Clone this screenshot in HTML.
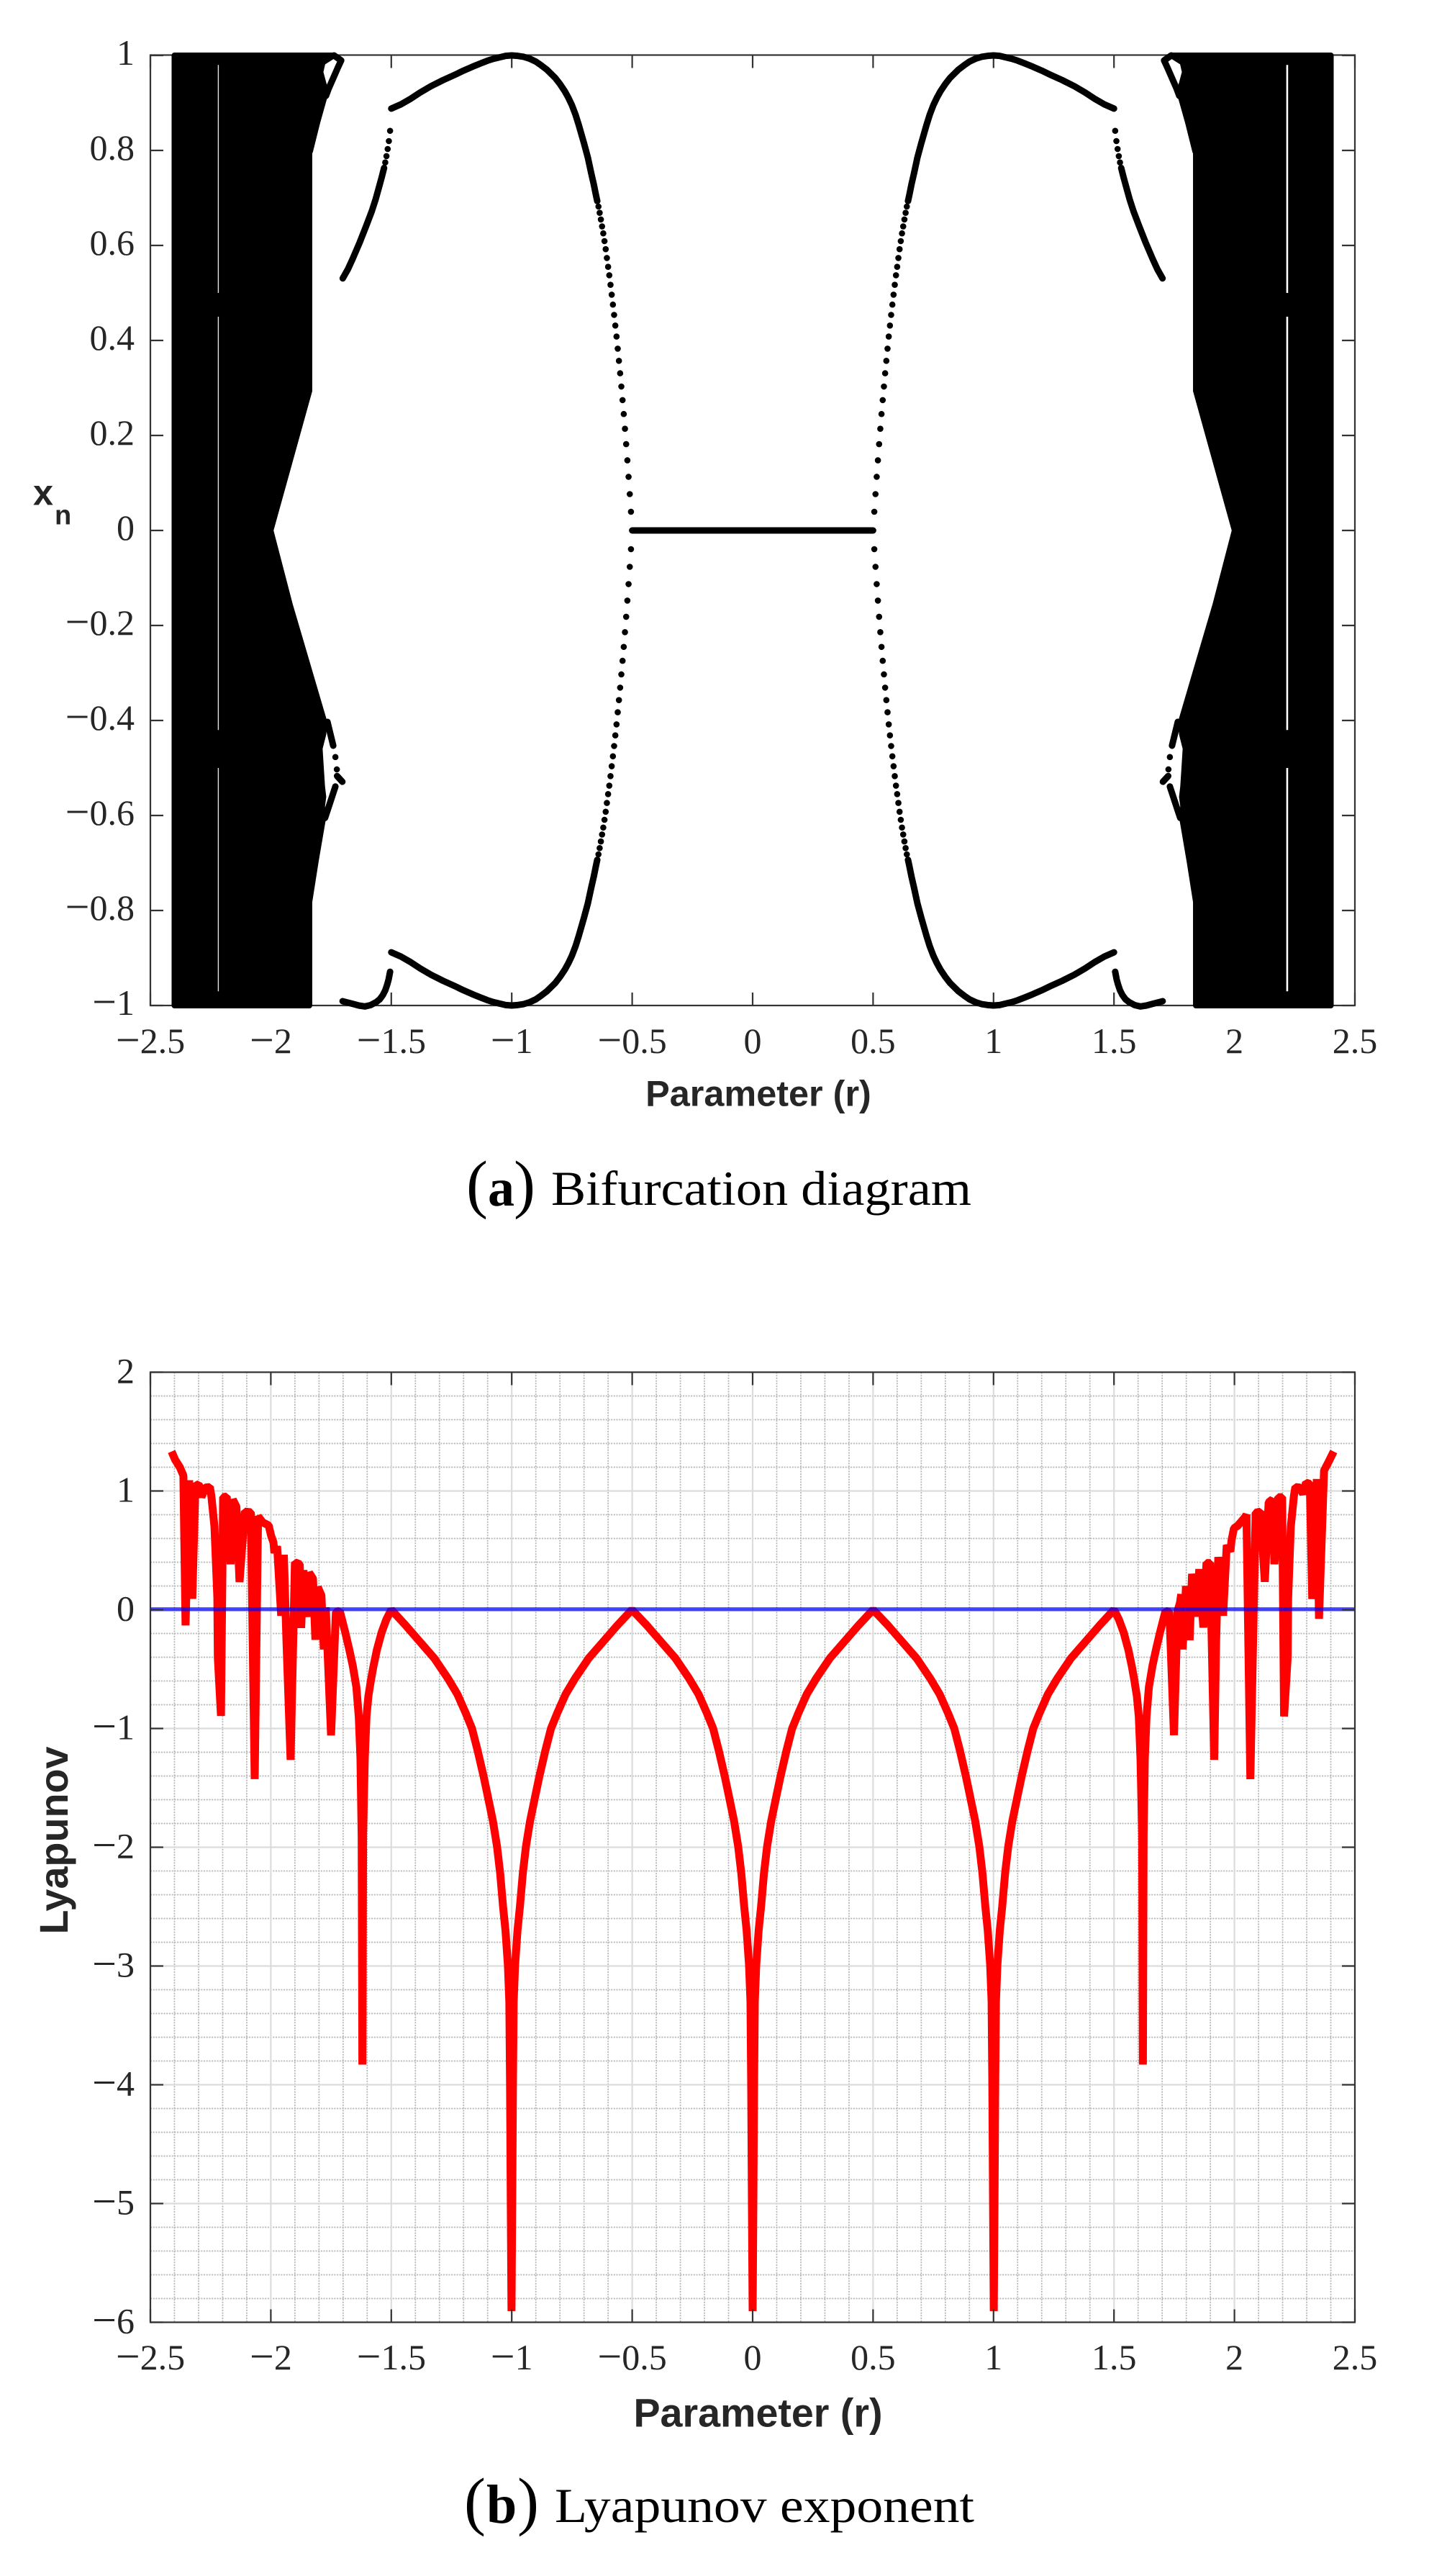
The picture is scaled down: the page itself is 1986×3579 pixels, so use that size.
<!DOCTYPE html>
<html lang="en">
<head>
<meta charset="utf-8">
<title>Bifurcation diagram and Lyapunov exponent</title>
<style>
html,body{margin:0;padding:0;background:#fff;}
svg{display:block;}
.tick{font-family:"Liberation Serif",serif;font-size:50px;fill:#262626;}
.title{font-family:"Liberation Sans",sans-serif;font-weight:bold;fill:#262626;}
.cap{font-family:"Liberation Serif",serif;fill:#000;}
</style>
</head>
<body>
<svg id="figure" xmlns="http://www.w3.org/2000/svg" width="1986" height="3579" viewBox="0 0 1986 3579">
  <rect x="0" y="0" width="1986" height="3579" fill="#fff"/>

  <g id="chartA">
    <g id="axesA"></g>
    <g id="marksA"></g>
    <g id="labelsA"></g>
    <text class="title" x="1054" y="1536.7" font-size="50.4" text-anchor="middle">Parameter (r)</text>
    <text class="title" x="46" y="701.5" font-size="50.4">x</text>
    <text class="title" x="76" y="728.6" font-size="38">n</text>
  </g>

  <text class="cap" y="1675"><tspan x="648" font-size="90">(</tspan><tspan x="678" font-size="74" font-weight="bold">a</tspan><tspan x="714" font-size="90">)</tspan></text>
  <text class="cap" x="766" y="1674" font-size="68" textLength="584" lengthAdjust="spacingAndGlyphs">Bifurcation diagram</text>

  <g id="chartB">
    <g id="gridB"></g>
    <g id="marksB"></g>
    <g id="axesB"></g>
    <g id="labelsB"></g>
    <text class="title" x="1053.5" y="3371.7" font-size="55.6" text-anchor="middle">Parameter (r)</text>
    <text class="title" transform="translate(94 2557) rotate(-90)" font-size="55.7" text-anchor="middle">Lyapunov</text>
  </g>

  <text class="cap" y="3505"><tspan x="645" font-size="90">(</tspan><tspan x="676" font-size="76" font-weight="bold">b</tspan><tspan x="719" font-size="90">)</tspan></text>
  <text class="cap" x="771" y="3504" font-size="68" textLength="583" lengthAdjust="spacingAndGlyphs">Lyapunov exponent</text>
</svg>

<script>
// ---------- shared tick data ----------
const xTickValues = [-2.5, -2, -1.5, -1, -0.5, 0, 0.5, 1, 1.5, 2, 2.5];
const xTickLabels = ["-2.5", "-2", "-1.5", "-1", "-0.5", "0", "0.5", "1", "1.5", "2", "2.5"];
const yTickValuesA = [1, 0.8, 0.6, 0.4, 0.2, 0, -0.2, -0.4, -0.6, -0.8, -1];
const yTickLabelsA = ["1", "0.8", "0.6", "0.4", "0.2", "0", "-0.2", "-0.4", "-0.6", "-0.8", "-1"];
const yTickValuesB = [2, 1, 0, -1, -2, -3, -4, -5, -6];
const yTickLabelsB = ["2", "1", "0", "-1", "-2", "-3", "-4", "-5", "-6"];
const xMinorValues = [-2.4,-2.3,-2.2,-2.1,-1.9,-1.8,-1.7,-1.6,-1.4,-1.3,-1.2,-1.1,-0.9,-0.8,-0.7,-0.6,-0.4,-0.3,-0.2,-0.1,0.1,0.2,0.3,0.4,0.6,0.7,0.8,0.9,1.1,1.2,1.3,1.4,1.6,1.7,1.8,1.9,2.1,2.2,2.3,2.4];
const yMinorValues = [1.8,1.6,1.4,1.2,0.8,0.6,0.4,0.2,-0.2,-0.4,-0.6,-0.8,-1.2,-1.4,-1.6,-1.8,-2.2,-2.4,-2.6,-2.8,-3.2,-3.4,-3.6,-3.8,-4.2,-4.4,-4.6,-4.8,-5.2,-5.4,-5.6,-5.8];

// ---------- bifurcation data (left side r; mirrored for r > 0) ----------
const chaosR = [-2.4,-1.738,-1.785,-1.794,-1.782,-1.771,-1.807,-1.837,-1.84,-1.84,-2.001,-1.921,-1.777,-1.782,-1.797,-1.792,-1.787,-1.782,-1.787,-1.783,-1.813,-1.84,-1.84,-2.4];
const chaosX = [1,1,0.985,0.965,0.942,0.924,0.859,0.798,0.798,0.294,0,-0.156,-0.4045,-0.429,-0.459,-0.5,-0.539,-0.561,-0.58,-0.606,-0.695,-0.782,-1,-1];
const upperStripR = [-1.738,-1.708,-1.722,-1.76,-1.771];
const upperStripX = [1,0.9894,0.974,0.93,0.915];
const lowerStripAR = [-1.765,-1.741];
const lowerStripAX = [-0.403,-0.453];
const lowerStripDotR = [-1.732,-1.726];
const lowerStripDotX = [-0.477,-0.503];
const lowerStripBR = [-1.725,-1.703];
const lowerStripBX = [-0.517,-0.529];
const lowerStripCR = [-1.732,-1.765,-1.775];
const lowerStripCX = [-0.539,-0.59,-0.605];
const windowR = [-2.218, 2.219];
const windowSpanTop = [0.98, 0.45, -0.5];
const windowSpanBottom = [0.5, -0.42, -0.97];

const fixedPointR = [-0.5, 0.5];
const fixedPointX = [0, 0];

const branchDotR = [0.505,0.51,0.515,0.52,0.525,0.53,0.535,0.54,0.545,0.55,0.555,0.56,0.565,0.57,0.575,0.58,0.585,0.59,0.595,0.6,0.605,0.61,0.615,0.62,0.625,0.63,0.635,0.64,0.645];
const branchDotX = [0.0394,0.0765,0.1129,0.1476,0.1817,0.2141,0.2451,0.2744,0.303,0.3309,0.3571,0.3827,0.4082,0.4314,0.4538,0.4754,0.4963,0.5172,0.5372,0.555,0.5736,0.5921,0.6091,0.6254,0.6401,0.6547,0.6687,0.6818,0.6934];
const branchLineR = [0.645,0.65,0.66,0.67,0.684,0.7,0.722,0.735,0.75,0.765,0.779,0.8,0.82,0.854,0.88,0.9,0.925,0.95,0.975,1,1.025,1.05,1.075,1.1,1.13,1.164,1.2,1.233,1.285,1.336,1.38,1.422,1.46,1.5];
const branchLineX = [0.6934,0.705,0.73,0.752,0.785,0.815,0.854,0.875,0.895,0.911,0.924,0.94,0.953,0.97,0.98,0.987,0.993,0.997,0.999,1,0.999,0.996,0.993,0.989,0.983,0.976,0.968,0.96,0.948,0.935,0.922,0.908,0.897,0.888];

const outerDotR = [1.505,1.51,1.515,1.52,1.525,1.53];
const outerDotX = [0.8413,0.8197,0.803,0.788,0.7747,0.763];
const outerLineR = [1.53,1.54,1.551,1.565,1.581,1.605,1.631,1.661,1.68,1.7015];
const outerLineX = [0.763,0.743,0.7227,0.697,0.672,0.64,0.6065,0.571,0.55,0.5307];
const outerLowerR = [1.505,1.511,1.517,1.525,1.535,1.548,1.563,1.585,1.61,1.635,1.657,1.68,1.702];
const outerLowerX = [-0.929,-0.945,-0.956,-0.968,-0.978,-0.987,-0.993,-0.999,-1.002,-1,-0.997,-0.994,-0.991];

// ---------- Lyapunov data ----------
const lyapLeftR = [-2.412,-2.397,-2.378,-2.363,-2.354,-2.339,-2.326,-2.313,-2.293,-2.288,-2.272,-2.253,-2.247,-2.234,-2.222,-2.22,-2.207,-2.198,-2.183,-2.167,-2.158,-2.143,-2.13,-2.108,-2.083,-2.067,-2.053,-2.034,-2.009,-1.999,-1.989,-1.985,-1.974,-1.957,-1.946,-1.935,-1.918,-1.9,-1.88,-1.874,-1.865,-1.845,-1.841,-1.825,-1.815,-1.805,-1.79,-1.78,-1.772,-1.75,-1.73,-1.714,-1.705,-1.69,-1.675,-1.66,-1.645,-1.635,-1.628,-1.623,-1.62,-1.617,-1.61,-1.603,-1.595,-1.585,-1.575,-1.56,-1.54,-1.52,-1.5];
const lyapLeftValue = [1.332,1.262,1.201,1.13,-0.132,1.09,0.092,1.059,1.039,0.948,1.029,1.033,0.96,0.7,0.1,-0.404,-0.894,0.948,0.953,0.383,0.928,0.868,0.233,0.827,0.821,-1.426,0.787,0.736,0.71,0.625,0.565,0.478,0.535,-0.05,0.463,-0.27,-1.264,0.399,0.383,-0.153,0.332,-0.06,0.312,0.262,-0.253,0.191,0.12,-0.334,0.02,-1.058,-0.02,-0.01,-0.08,-0.2,-0.33,-0.47,-0.65,-0.9,-1.25,-1.9,-3.83,-1.9,-1.25,-0.9,-0.728,-0.6,-0.486,-0.34,-0.19,-0.08,0];
const troughR = [-1.001, 0, 1.001];
const troughValue = [-5.906, -5.906, -5.906];
const arcDelta = [0.5,0.44,0.38,0.32,0.264,0.225,0.19,0.164,0.14,0.115,0.096,0.077,0.06,0.047,0.035,0.025,0.015,0.009,0.006,0.003];
const arcValue = [0,-0.13,-0.27,-0.41,-0.578,-0.71,-0.87,-1,-1.19,-1.41,-1.594,-1.78,-1.994,-2.22,-2.5,-2.7,-2.99,-3.3,-4,-5];
const lyapRightR = [1.5,1.52,1.54,1.56,1.575,1.585,1.595,1.603,1.61,1.617,1.62,1.623,1.628,1.635,1.645,1.66,1.675,1.69,1.705,1.714,1.73,1.749,1.764,1.774,1.779,1.785,1.799,1.814,1.824,1.844,1.854,1.871,1.884,1.899,1.916,1.924,1.933,1.953,1.968,1.983,1.988,1.998,2.013,2.043,2.05,2.066,2.088,2.108,2.126,2.142,2.158,2.166,2.182,2.198,2.206,2.221,2.223,2.234,2.247,2.253,2.272,2.285,2.297,2.313,2.323,2.342,2.351,2.372,2.392,2.412];
const lyapRightValue = [0,-0.08,-0.19,-0.34,-0.486,-0.6,-0.728,-0.9,-1.25,-1.9,-3.83,-1.9,-1.25,-0.9,-0.65,-0.47,-0.33,-0.2,-0.08,-0.01,-0.02,-1.056,-0.01,0.06,0.13,-0.334,0.2,-0.256,0.302,-0.058,0.342,-0.15,0.393,0.393,-1.264,-0.268,0.444,-0.05,0.544,0.49,0.585,0.686,0.706,0.777,0.8,-1.427,0.817,0.827,0.235,0.904,0.93,0.383,0.948,0.948,-0.898,-0.4,0.1,0.7,0.96,1.033,1.029,0.973,1.07,1.06,0.09,1.1,-0.076,1.172,1.25,1.332];
const zeroLineR = [-2.5, 2.5];
const zeroLineValue = [0, 0];

// ---------- axis functions ----------
const xScale = r => 1046 + r * 334.8;
const yScaleA = v => 737 - v * 660;
const yScaleB = v => 2236.5 - v * 165;

const NS = "http://www.w3.org/2000/svg";
function mk(tag, parent) {
  const el = document.createElementNS(NS, tag);
  parent.appendChild(el);
  return el;
}
function pathFrom(rs, vs, ySc, sign, close) {
  let d = "";
  for (let i = 0; i < rs.length; i++) {
    d += (i ? "L" : "M") + xScale(sign * rs[i]).toFixed(2) + " " + ySc(vs[i]).toFixed(2);
  }
  return close ? d + "Z" : d;
}
function addLabelText(parent, label, x, y, anchor) {
  const t = mk("text", parent);
  t.setAttribute("class", "tick");
  t.setAttribute("x", x);
  t.setAttribute("y", y);
  t.setAttribute("text-anchor", anchor);
  if (label.charAt(0) === "-") {
    const m = mk("tspan", t);
    m.setAttribute("font-size", "60");
    m.setAttribute("dy", "2");
    m.textContent = "\u2212";
    const n = mk("tspan", t);
    n.setAttribute("dy", "-2");
    n.textContent = label.slice(1);
  } else {
    t.textContent = label;
  }
  return t;
}

function drawAxes(parent, yTop, yBottom, yVals, ySc) {
  const L = xScale(-2.5), R = xScale(2.5), len = 18;
  const box = mk("rect", parent);
  
  
  box.setAttribute("x", L);
  box.setAttribute("y", yTop);
  box.setAttribute("width", R - L);
  box.setAttribute("height", yBottom - yTop);
  box.setAttribute("fill", "none");
  box.setAttribute("stroke", "#333");
  box.setAttribute("stroke-width", "2.2");
  let d = "";
  xTickValues.forEach(v => {
    const x = xScale(v).toFixed(2);
    d += "M" + x + " " + yTop + "v" + len + "M" + x + " " + yBottom + "v-" + len;
  });
  yVals.forEach(v => {
    const y = ySc(v).toFixed(2);
    d += "M" + L + " " + y + "h" + len + "M" + R + " " + y + "h-" + len;
  });
  const ticks = mk("path", parent);
  
  
  ticks.setAttribute("d", d);
  ticks.setAttribute("stroke", "#333");
  ticks.setAttribute("stroke-width", "2.2");
  ticks.setAttribute("fill", "none");
}

function drawTickLabels(parent, xBase, yVals, yLabels, ySc, yShift) {
  xTickValues.forEach((v, i) => {
    const t = addLabelText(parent, xTickLabels[i], xScale(v), xBase, "middle");
    
    
  });
  yVals.forEach((v, i) => {
    const t = addLabelText(parent, yLabels[i], 187, ySc(v) + yShift, "end");
    
    
  });
}

// ---------- chart A ----------
const axesA = document.getElementById("axesA");
const marksA = document.getElementById("marksA");
drawAxes(axesA, yScaleA(1) - 0.5, yScaleA(-1), yTickValuesA, yScaleA);
drawTickLabels(document.getElementById("labelsA"), 1463, yTickValuesA, yTickLabelsA, yScaleA, 13);

function styleBranch(el) {
  el.setAttribute("fill", "none");
  el.setAttribute("stroke", "#000");
  el.setAttribute("stroke-width", "9");
  el.setAttribute("stroke-linecap", "round");
  el.setAttribute("stroke-linejoin", "round");
}

[1, -1].forEach(sign => {
  const chaos = mk("path", marksA);
  
  
  chaos.setAttribute("d", pathFrom(chaosR, chaosX, yScaleA, sign, true));
  chaos.setAttribute("fill", "#000");
  chaos.setAttribute("stroke", "#000");
  chaos.setAttribute("stroke-width", "8");
  chaos.setAttribute("stroke-linejoin", "round");

  const upperStrip = mk("path", marksA);
  
  
  upperStrip.setAttribute("d", pathFrom(upperStripR, upperStripX, yScaleA, sign, false));
  styleBranch(upperStrip);

  const stripA = mk("path", marksA);
  
  
  stripA.setAttribute("d", pathFrom(lowerStripAR, lowerStripAX, yScaleA, sign, false));
  styleBranch(stripA);

  const stripB = mk("path", marksA);
  
  
  stripB.setAttribute("d", pathFrom(lowerStripBR, lowerStripBX, yScaleA, sign, false));
  styleBranch(stripB);

  const stripC = mk("path", marksA);
  
  
  stripC.setAttribute("d", pathFrom(lowerStripCR, lowerStripCX, yScaleA, sign, false));
  styleBranch(stripC);

  lowerStripDotR.forEach((r, i) => {
    const dot = mk("circle", marksA);
    
    
    dot.setAttribute("cx", xScale(sign * r));
    dot.setAttribute("cy", yScaleA(lowerStripDotX[i]));
    dot.setAttribute("r", "4.3");
    dot.setAttribute("fill", "#000");
  });
});

windowR.forEach(r => {
  windowSpanTop.forEach((top, i) => {
    const w = mk("line", marksA);
    
    
    w.setAttribute("x1", xScale(r));
    w.setAttribute("x2", xScale(r));
    w.setAttribute("y1", yScaleA(top));
    w.setAttribute("y2", yScaleA(windowSpanBottom[i]));
    w.setAttribute("stroke", r < 0 ? "#e4e4e4" : "#fff");
    w.setAttribute("stroke-width", r < 0 ? "1.4" : "2.6");
  });
});

const fixedLine = mk("path", marksA);


fixedLine.setAttribute("d", pathFrom(fixedPointR, fixedPointX, yScaleA, 1, false));
styleBranch(fixedLine);

[1, -1].forEach(sr => {
  [1, -1].forEach(sv => {
    const neg = v => v * sv;
    branchDotR.forEach((r, i) => {
      const dot = mk("circle", marksA);
      
      
      dot.setAttribute("cx", xScale(sr * r));
      dot.setAttribute("cy", yScaleA(neg(branchDotX[i])));
      dot.setAttribute("r", "4.3");
      dot.setAttribute("fill", "#000");
    });
    const line = mk("path", marksA);
    
    
    line.setAttribute("d", pathFrom(branchLineR, branchLineX.map(neg), yScaleA, sr, false));
    styleBranch(line);
  });
  outerDotR.forEach((r, i) => {
    const dot = mk("circle", marksA);
    
    
    dot.setAttribute("cx", xScale(sr * r));
    dot.setAttribute("cy", yScaleA(outerDotX[i]));
    dot.setAttribute("r", "4.3");
    dot.setAttribute("fill", "#000");
  });
  const outer = mk("path", marksA);
  
  
  outer.setAttribute("d", pathFrom(outerLineR, outerLineX, yScaleA, sr, false));
  styleBranch(outer);
  const lower = mk("path", marksA);
  
  
  lower.setAttribute("d", pathFrom(outerLowerR, outerLowerX, yScaleA, sr, false));
  styleBranch(lower);
});

// ---------- chart B ----------
const gridB = document.getElementById("gridB");
const marksB = document.getElementById("marksB");
const yB = yScaleB;
const plotL = xScale(-2.5), plotR = xScale(2.5);

xMinorValues.forEach(v => {
  const g = mk("line", gridB);
  
  
  g.setAttribute("x1", xScale(v));
  g.setAttribute("x2", xScale(v));
  g.setAttribute("y1", yB(2));
  g.setAttribute("y2", yB(-6));
  g.setAttribute("stroke", "#b6b6b6");
  g.setAttribute("stroke-width", "1.7");
  g.setAttribute("stroke-dasharray", "2.1 1.6");
});
yMinorValues.forEach(v => {
  const g = mk("line", gridB);
  
  
  g.setAttribute("x1", plotL);
  g.setAttribute("x2", plotR);
  g.setAttribute("y1", yB(v));
  g.setAttribute("y2", yB(v));
  g.setAttribute("stroke", "#b6b6b6");
  g.setAttribute("stroke-width", "1.7");
  g.setAttribute("stroke-dasharray", "2.1 1.6");
});
xTickValues.forEach(v => {
  const g = mk("line", gridB);
  
  
  g.setAttribute("x1", xScale(v));
  g.setAttribute("x2", xScale(v));
  g.setAttribute("y1", yB(2));
  g.setAttribute("y2", yB(-6));
  g.setAttribute("stroke", "#dcdcdc");
  g.setAttribute("stroke-width", "2.2");
});
yTickValuesB.forEach(v => {
  const g = mk("line", gridB);
  
  
  g.setAttribute("x1", plotL);
  g.setAttribute("x2", plotR);
  g.setAttribute("y1", yB(v));
  g.setAttribute("y2", yB(v));
  g.setAttribute("stroke", "#dcdcdc");
  g.setAttribute("stroke-width", "2.2");
});

// assemble the full curve: left chaotic part, the three log-shaped troughs, right chaotic part
const curveR = lyapLeftR.slice();
const curveV = lyapLeftValue.slice();
troughR.forEach((c, t) => {
  for (let i = 1; i < arcDelta.length; i++) {
    curveR.push(c - arcDelta[i]);
    curveV.push(arcValue[i]);
  }
  curveR.push(c);
  curveV.push(troughValue[t]);
  for (let i = arcDelta.length - 1; i >= 1; i--) {
    curveR.push(c + arcDelta[i]);
    curveV.push(arcValue[i]);
  }
  if (t < troughR.length - 1) {
    curveR.push(c + arcDelta[0]);
    curveV.push(arcValue[0]);
  }
});
lyapRightR.forEach((r, i) => {
  curveR.push(r);
  curveV.push(lyapRightValue[i]);
});

const lyapLine = mk("path", marksB);


lyapLine.setAttribute("d", pathFrom(curveR, curveV, yB, 1, false));
lyapLine.setAttribute("fill", "none");
lyapLine.setAttribute("stroke", "#ff0000");
lyapLine.setAttribute("stroke-width", "11");
lyapLine.setAttribute("stroke-linejoin", "bevel");
lyapLine.setAttribute("stroke-linecap", "butt");

const zeroLine = mk("path", marksB);


zeroLine.setAttribute("d", pathFrom(zeroLineR, zeroLineValue, v => yB(v) - 0.7, 1, false));
zeroLine.setAttribute("fill", "none");
zeroLine.setAttribute("stroke", "rgba(0,0,255,0.72)");
zeroLine.setAttribute("stroke-width", "5.3");

drawAxes(document.getElementById("axesB"), yB(2), yB(-6), yTickValuesB, yB);
drawTickLabels(document.getElementById("labelsB"), 3292, yTickValuesB, yTickLabelsB, yB, 15);
</script>
</body>
</html>
